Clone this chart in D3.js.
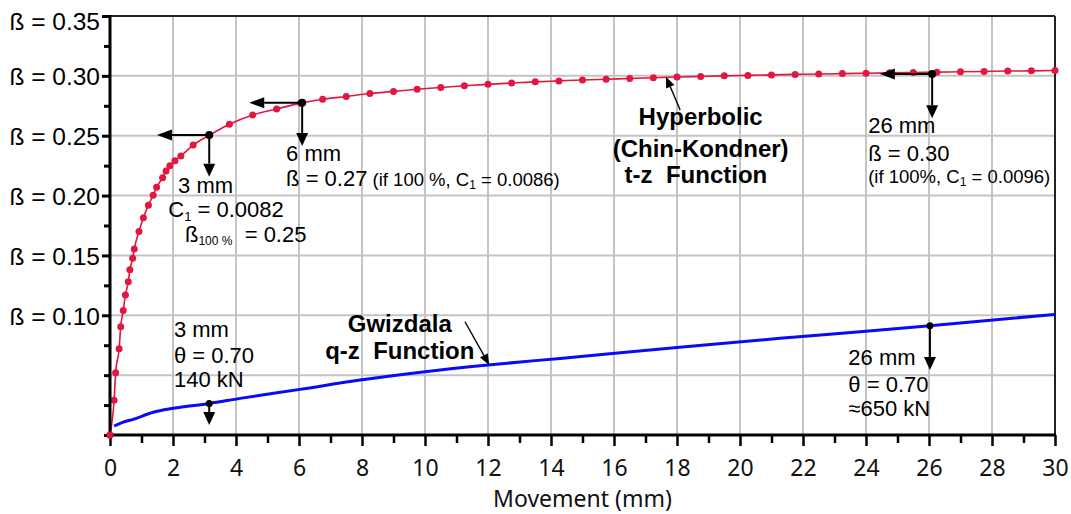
<!DOCTYPE html>
<html><head><meta charset="utf-8">
<script src="https://cdn.jsdelivr.net/npm/d3@7"></script>
<style>
html,body{margin:0;padding:0;background:#fff;}
svg{display:block;}
text{white-space:pre;}
</style></head><body>
<svg id="chart" width="1071" height="514"></svg>
<script>
// ---------- data ----------
const xTickValues = [0,2,4,6,8,10,12,14,16,18,20,22,24,26,28,30];
const xMinorTicks = [1,3,5,7,9,11,13,15,17,19,21,23,25,27,29];
const yTickValues = [0.35,0.30,0.25,0.20,0.15,0.10];
const yTickLabels = ["ß = 0.35","ß = 0.30","ß = 0.25","ß = 0.20","ß = 0.15","ß = 0.10"];
const yMinorTicks = [0,0.025,0.05,0.075,0.125,0.175,0.225,0.275,0.325];
const yGridValues = [0.05,0.10,0.15,0.20,0.25,0.30];
const xGridValues = [2,4,6,8,10,12,14,16,18,20,22,24,26,28];
const xTitle = "Movement (mm)";

// Hyperbolic (Chin-Kondner) t-z curve (dots)
const hypX = [0,0.13,0.18,0.29,0.34,0.42,0.49,0.58,0.63,0.72,0.77,0.92,1.06,1.22,1.37,1.48,1.67,1.78,1.90,2.06,2.25,2.64,3.15,3.79,4.53,5.29,6.05,6.75,
  7.5,8.25,9,9.75,10.5,11.25,12,12.75,13.5,14.25,15,15.75,16.5,17.25,18,18.75,19.5,20.25,21,21.75,22.5,23.25,24,24.75,25.5,26.25,27,27.75,28.5,29.25,30];
const hypY = [0,0.029,0.052,0.072,0.0905,0.104,0.117,0.128,0.138,0.1476,0.1554,0.170,0.1815,0.192,0.2003,0.2070,0.2149,0.2205,0.2250,0.2291,0.2331,0.2422,0.2503,0.2595,0.2673,0.2723,0.2772,0.2804,
  0.2828,0.2852,0.2870,0.2888,0.2903,0.2917,0.2929,0.2940,0.2950,0.2958,0.2966,0.2972,0.2978,0.2984,0.2990,0.2995,0.3000,0.3004,0.3008,0.3012,0.3016,0.3019,0.3022,0.3025,0.3028,0.3031,0.3034,0.3037,0.3040,0.3042,0.3045];

// Gwizdala q-z curve (line)
const gwzX = [0.13,0.4,0.74,1.37,2.01,3.15,4.13,6.03,7.94,10,12,14.29,18,21.27,24,26.03,30];
const gwzY = [0.0075,0.0105,0.0131,0.0190,0.0223,0.0264,0.0306,0.0381,0.0459,0.0529,0.0585,0.0640,0.0730,0.0808,0.0867,0.0913,0.1008];

// annotation markers: point, left-arrow tip x, down-arrow tip y
const markers = [
  {x:3.15, y:0.2506, leftTo:1.49, downTo:0.2158, r:4},
  {x:6.1, y:0.2776, leftTo:4.42, downTo:0.2414, r:4},
  {x:26.1, y:0.3016, leftTo:24.44, downTo:0.2646, r:4},
  {x:3.15, y:0.0264, leftTo:null, downTo:0.0084, r:3.5},
  {x:26.03, y:0.0913, leftTo:null, downTo:0.0543, r:3.5}
];
const pointers = [
  {x1:18.1, y1:0.2715, x2:17.65, y2:0.2993},
  {x1:11.27, y1:0.0946, x2:12.04, y2:0.0585}
];

// ---------- layout ----------
const svg = d3.select("#chart");
const x = d3.scaleLinear().domain([0,30]).range([110,1055]);
const y = d3.scaleLinear().domain([0,0.35]).range([435,16]);
const FONT = "'Liberation Sans', Arial, sans-serif";
const RED = "#e2173f", BLUE = "#0a0af5";

svg.append("rect").attr("width",1071).attr("height",514).attr("fill","#fff");

// grid
svg.append("g").selectAll("line").data(xGridValues).join("line")
  .attr("x1",d=>x(d)).attr("x2",d=>x(d)).attr("y1",y(0.35)).attr("y2",y(0))
  .attr("stroke","#c4c4c4").attr("stroke-width",2);
svg.append("g").selectAll("line").data(yGridValues).join("line")
  .attr("x1",x(0)).attr("x2",x(30)).attr("y1",d=>y(d)).attr("y2",d=>y(d))
  .attr("stroke","#c4c4c4").attr("stroke-width",2);

// frame top/right
svg.append("line").attr("x1",x(0)).attr("x2",x(30)).attr("y1",y(0.35)).attr("y2",y(0.35)).attr("stroke","#222").attr("stroke-width",2);
svg.append("line").attr("x1",x(30)).attr("x2",x(30)).attr("y1",y(0.35)).attr("y2",y(0)).attr("stroke","#222").attr("stroke-width",2);

// blue curve
const gwz = gwzX.map((d,i)=>[d,gwzY[i]]);
svg.append("path").datum(gwz)
  .attr("d", d3.line().x(d=>x(d[0])).y(d=>y(d[1])).curve(d3.curveMonotoneX))
  .attr("fill","none").attr("stroke",BLUE).attr("stroke-width",3);

// red curve
const hyp = hypX.map((d,i)=>[d,hypY[i]]);
svg.append("path").datum(hyp)
  .attr("d", d3.line().x(d=>x(d[0])).y(d=>y(d[1])).curve(d3.curveMonotoneX))
  .attr("fill","none").attr("stroke",RED).attr("stroke-width",1.6);
svg.append("g").selectAll("circle").data(hyp).join("circle")
  .attr("cx",d=>x(d[0])).attr("cy",d=>y(d[1])).attr("r",3.5).attr("fill",RED);

// arrows
function arrow(g, x1,y1,x2,y2, len, hw, sw){
  const dx=x2-x1, dy=y2-y1, L=Math.hypot(dx,dy), ux=dx/L, uy=dy/L;
  const bx=x2-ux*len, by=y2-uy*len;
  g.append("line").attr("x1",x1).attr("y1",y1).attr("x2",bx).attr("y2",by)
    .attr("stroke","#000").attr("stroke-width",sw);
  g.append("path").attr("d",`M${x2},${y2}L${bx-uy*hw},${by+ux*hw}L${bx+uy*hw},${by-ux*hw}Z`).attr("fill","#000");
}
const ga = svg.append("g");
markers.forEach(m=>{
  const px=x(m.x), py=y(m.y);
  if(m.leftTo!==null) arrow(ga, px, py, x(m.leftTo), py, 15, 5.5, 2);
  arrow(ga, px, py, px, y(m.downTo), 13, 6, 2);
  ga.append("circle").attr("cx",px).attr("cy",py).attr("r",m.r).attr("fill","#000");
});
pointers.forEach(p=>arrow(ga, x(p.x1),y(p.y1),x(p.x2),y(p.y2), 11, 4.5, 1.4));

// annotation texts
const gt = svg.append("g").attr("font-family",FONT).attr("fill","#000");
function txt(xv, yv, parts, anchor){
  const t = gt.append("text").attr("x",x(xv)).attr("y",y(yv)).attr("text-anchor",anchor||"start");
  parts.forEach(p=>{
    const s = t.append("tspan").text(p.t).attr("font-size",p.s||22);
    if(p.w) s.attr("font-weight",p.w);
    if(p.dy) s.attr("dy",p.dy);
  });
  return t;
}
txt(2.16,0.2022,[{t:"3 mm"}]);
txt(1.85,0.1821,[{t:"C"},{t:"1",s:13,dy:4},{t:" = 0.0082",dy:-4}]);
txt(2.38,0.1612,[{t:"ß"},{t:"100 %",s:12,dy:3},{t:"  = 0.25",dy:-3}]);
txt(5.59,0.2289,[{t:"6 mm"}]);
txt(5.59,0.2080,[{t:"ß = 0.27"},{t:" (if 100 %, C",s:18.5},{t:"1",s:12,dy:3},{t:" = 0.0086)",s:18.5,dy:-3}]);
txt(18.75,0.2590,[{t:"Hyperbolic",s:24,w:"bold"}],"middle");
txt(18.75,0.2325,[{t:"(Chin-Kondner)",s:24,w:"bold"}],"middle");
txt(18.6,0.2105,[{t:"t-z  Function",s:24,w:"bold"}],"middle");
txt(24.07,0.2520,[{t:"26 mm"}]);
txt(24.07,0.2291,[{t:"ß = 0.30"}]);
txt(24.07,0.2103,[{t:"(if 100%, C",s:18.5},{t:"1",s:12,dy:3},{t:" = 0.0096)",s:18.5,dy:-3}]);
txt(9.2,0.0863,[{t:"Gwizdala",s:24,w:"bold"}],"middle");
txt(9.2,0.0632,[{t:"q-z  Function",s:24,w:"bold"}],"middle");
txt(2.03,0.0821,[{t:"3 mm"}]);
txt(2.03,0.0604,[{t:"θ = 0.70"}]);
txt(2.03,0.0403,[{t:"140 kN"}]);
txt(23.44,0.0585,[{t:"26 mm"}]);
txt(23.44,0.0362,[{t:"θ = 0.70"}]);
txt(23.44,0.0159,[{t:"≈650 kN"}]);

// ---------- axes ----------
// y axis
const yMajor = svg.append("g").attr("transform",`translate(${x(0)},0)`)
  .call(d3.axisLeft(y).tickValues(yTickValues).tickSize(8).tickSizeOuter(0).tickPadding(2)
    .tickFormat((d,i)=>yTickLabels[i]));
yMajor.select(".domain").remove();
yMajor.selectAll("line").attr("stroke","#000").attr("stroke-width",3);
yMajor.selectAll("text").attr("font-family",FONT).attr("font-size",24.5).attr("fill","#000")
  .attr("dy",(d)=> d===0.35 ? "0.55em" : "0.36em");
const yMinor = svg.append("g").attr("transform",`translate(${x(0)},0)`)
  .call(d3.axisLeft(y).tickValues(yMinorTicks).tickSize(6).tickSizeOuter(0).tickFormat(""));
yMinor.select(".domain").remove();
yMinor.selectAll("line").attr("stroke","#000").attr("stroke-width",3);

// x axis
const xMajor = svg.append("g").attr("transform",`translate(0,${y(0)})`)
  .call(d3.axisBottom(x).tickValues(xTickValues).tickSize(11).tickSizeOuter(0));
xMajor.select(".domain").remove();
xMajor.selectAll("line").attr("stroke","#000").attr("stroke-width",2.5);
xMajor.selectAll("text").attr("font-family","'Noto Sans', sans-serif").attr("font-size",23)
  .attr("fill","#111").attr("y",41).attr("dy",0);
const xMinor = svg.append("g").attr("transform",`translate(0,${y(0)})`)
  .call(d3.axisBottom(x).tickValues(xMinorTicks).tickSize(8).tickSizeOuter(0).tickFormat(""));
xMinor.select(".domain").remove();
xMinor.selectAll("line").attr("stroke","#000").attr("stroke-width",2.5);

// axis lines
svg.append("line").attr("x1",x(0)).attr("x2",x(0)).attr("y1",y(0.35)-1).attr("y2",y(0)+1.5).attr("stroke","#000").attr("stroke-width",3);
svg.append("line").attr("x1",x(0)-1.5).attr("x2",x(30)+1).attr("y1",y(0)).attr("y2",y(0)).attr("stroke","#000").attr("stroke-width",3);

// origin dot drawn above axis
svg.append("circle").attr("cx",x(hyp[0][0])).attr("cy",y(hyp[0][1])).attr("r",3.5).attr("fill",RED);

// x title
svg.append("text").attr("x",(x(0)+x(30))/2).attr("y",507).attr("text-anchor","middle")
  .attr("font-family","'Noto Sans', sans-serif").attr("font-size",23).attr("fill","#111").text(xTitle);
</script>
</body></html>
